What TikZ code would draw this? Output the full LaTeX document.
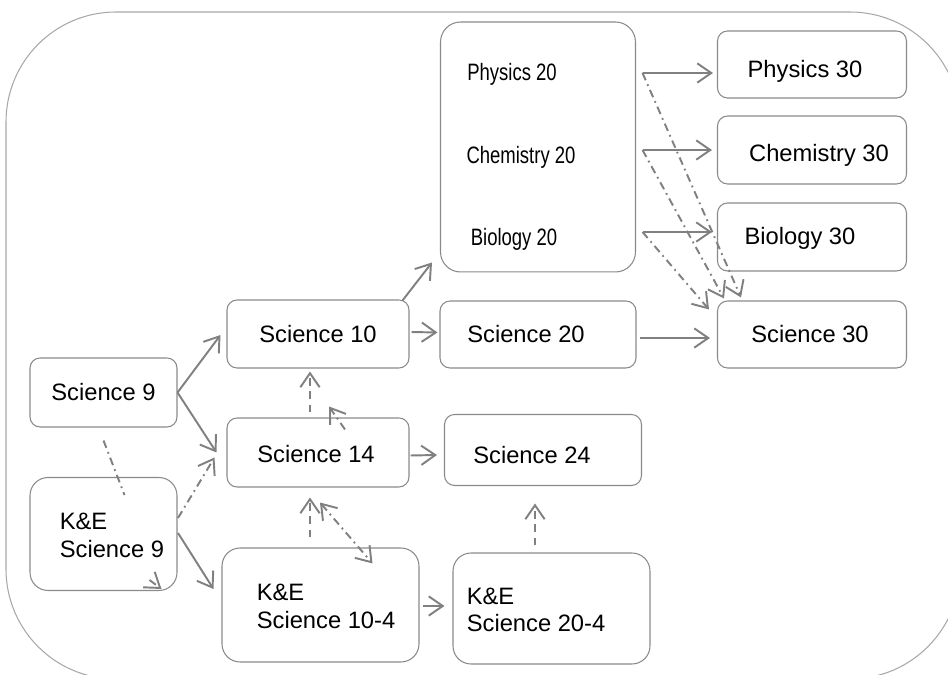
\documentclass[tikz,border=0pt]{standalone}
\usepackage{fontspec}
\setmainfont{Liberation Sans}
\newfontfamily\narrowfont[FakeStretch=0.78]{Liberation Sans}
\usetikzlibrary{arrows.meta,calc}
\definecolor{boxgray}{HTML}{8A8A8A}
\definecolor{arrowgray}{HTML}{808080}
\definecolor{outergray}{HTML}{A8A8A8}
\newcommand\shiftt[3]{\makebox[0pt]{\hspace*{#1}\raisebox{#2}[\height][\depth]{#3}}}
\begin{document}
\begin{tikzpicture}[x=0.02cm,y=-0.02cm,
  box/.style={draw=boxgray, line width=0.6pt, rounded corners=0.2cm, inner sep=0pt,
    font=\fontsize{13.5}{15.5}\selectfont},
  bigbox/.style={box, rounded corners=0.4cm},
  kebox/.style={box, rounded corners=0.36cm},
  ketext/.style={inner sep=0pt, anchor=west, align=left, font=\fontsize{13.5}{15.5}\selectfont},
  narrowtext/.style={inner sep=0pt, font=\narrowfont\fontsize{13.5}{15.5}\selectfont},
  conn/.style={draw=arrowgray, line width=1.1pt, -{Straight Barb[length=8pt,width=11pt]}},
  plain/.style={draw=arrowgray, line width=1.1pt},
  dashdot/.style={dash pattern=on 4.5pt off 2.5pt on 1pt off 2.5pt},
  dashedln/.style={dash pattern=on 4.5pt off 3pt}
]
\useasboundingbox (0,0) rectangle (948,675);
\begin{scope}
  \clip (0,0) rectangle (948,675);
  \draw[outergray, line width=0.6pt, rounded corners=2.2cm] (6,12) rectangle (960,679);
\end{scope}

% boxes
\node[box, minimum width=2.94cm, minimum height=1.38cm] (s9) at (103.5,392.5) {Science 9};
\node[kebox, minimum width=2.94cm, minimum height=2.26cm] (k9) at (103.5,534) {};
\node[box, minimum width=3.64cm, minimum height=1.36cm] (s10) at (318,334) {Science 10};
\node[box, minimum width=3.64cm, minimum height=1.38cm] (s14) at (318,452.5) {\shiftt{-0.08cm}{-0.04cm}{Science 14}};
\node[kebox, minimum width=3.94cm, minimum height=2.28cm] (k10) at (320.5,605) {};
\node[box, minimum width=3.92cm, minimum height=1.34cm] (s20) at (538,334.5) {\shiftt{-0.48cm}{0cm}{Science 20}};
\node[box, minimum width=3.94cm, minimum height=1.42cm] (s24) at (543,450) {\shiftt{-0.44cm}{-0.1cm}{Science 24}};
\node[kebox, minimum width=3.94cm, minimum height=2.22cm] (k20) at (551.5,608.5) {};
\node[bigbox, minimum width=3.9cm, minimum height=5.0cm] (big) at (538,147) {};
\node[box, minimum width=3.78cm, minimum height=1.34cm] (p30) at (812,64.5) {\shiftt{-0.28cm}{-0.14cm}{Physics 30}};
\node[box, minimum width=3.78cm, minimum height=1.36cm] (c30) at (812,150) {\shiftt{0.28cm}{-0.1cm}{Chemistry 30}};
\node[box, minimum width=3.78cm, minimum height=1.36cm] (b30) at (812,237) {\shiftt{-0.48cm}{-0.02cm}{Biology 30}};
\node[box, minimum width=3.78cm, minimum height=1.34cm] (s30) at (812,334.5) {\shiftt{-0.08cm}{0cm}{Science 30}};

% texts
\node[ketext] (k9t) at ($(k9.west)+(30,1.5)$) {K\&E\\Science 9};
\node[ketext] (k10t) at ($(k10.west)+(35,1.5)$) {K\&E\\Science 10-4};
\node[ketext] (k20t) at ($(k20.west)+(14,1.5)$) {K\&E\\Science 20-4};
\node[narrowtext] (p20t) at (512,74) {Physics 20};
\node[narrowtext] (c20t) at (521,157) {Chemistry 20};
\node[narrowtext] (b20t) at (514,239) {Biology 20};

% start points on the right of the big box
\coordinate (p20o) at ($(big.east)+(6.5,-74)$);
\coordinate (c20o) at ($(big.east)+(6.5,3)$);
\coordinate (b20o) at ($(big.east)+(6.5,85)$);

% solid connectors
\draw[conn] (s9.east) -- ($(s10.west)+(-6,1)$);
\draw[conn] (s9.east) -- ($(s14.west)+(-10,0)$);
\draw[conn] ($(k9.east)+(0.5,-1)$) -- ($(k10.west)+(-8,-16)$);
\draw[conn] ($(s10.north east)+(-7,1)$) -- ($(big.south west)+(-8,-10)$);
\draw[conn] ($(s10.east)+(2,-2)$) -- ($(s20.west)+(-2,-2)$);
\draw[conn] ($(s20.east)+(3,3.5)$) -- ($(s30.west)+(-7,3.5)$);
\draw[conn] (p20o) -- ($(p30.west)+(-4,8.5)$);
\draw[conn] (c20o) -- ($(c30.west)+(-5,0)$);
\draw[conn] (b20o) -- ($(b30.west)+(-5,-5)$);
\draw[conn] ($(s14.east)+(1,3)$) -- ($(s24.west)+(-7,5)$);
\draw[conn] ($(k10.east)+(3,1)$) -- ($(k20.west)+(-8,-2.5)$);

% dash-dot connectors
\draw[conn, dashdot] ($(k9.east)+(0.5,-16)$) -- ($(s14.west)+(-12,5)$);
\draw[plain, dashdot] ($(s9.south)+(0,13)$) -- ($(k9.north)+(21,18)$);
\draw[conn, dashdot] ($(k9.south east)+(-28,-11)$) -- ($(k9.south east)+(-16,-2)$);
\draw[conn, dashdot] (p20o) -- ($(s30.north west)+(24,-3)$);
\draw[conn, dashdot] (c20o) -- ($(s30.north west)+(7,-2)$);
\draw[conn, dashdot] (b20o) -- ($(s30.north west)+(-8,9)$);
\draw[conn, dashdot] ($(s14.north)+(27,12)$) -- ($(s14.north)+(11,-11)$);
\draw[conn, dashdot, {Straight Barb[length=8pt,width=11pt]}-{Straight Barb[length=8pt,width=11pt]}]
  ($(s14.south)+(2,15)$) -- ($(k10.north)+(52,16)$);

% dashed connectors
\draw[conn, dashedln] ($(s14.north)+(-8,-5)$) -- ($(s10.south)+(-8,3)$);
\draw[conn, dashedln] ($(k10.north)+(-10.5,-10)$) -- ($(s14.south)+(-8,10)$);
\draw[conn, dashedln] ($(k20.north)+(-16.5,-7)$) -- ($(s24.south)+(-8,17.5)$);
\end{tikzpicture}
\end{document}
